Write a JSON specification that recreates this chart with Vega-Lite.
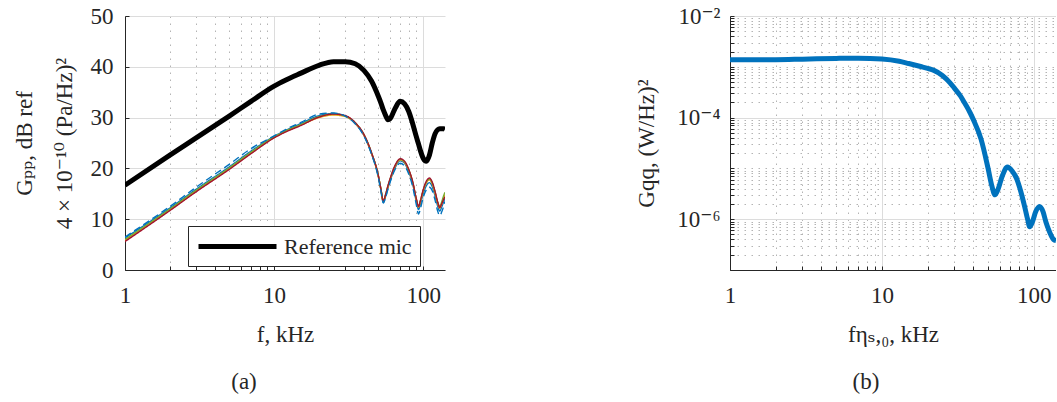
{
  "$schema": "https://vega.github.io/schema/vega-lite/v6.json",
  "background": "white",
  "padding": {"left": 13, "top": 5, "right": 0, "bottom": 0},
  "config": {
    "font": "'Liberation Serif', 'DejaVu Serif', serif",
    "view": {"stroke": null},
    "axis": {
      "labelFont": "'Liberation Serif', 'DejaVu Serif', serif", "labelFontSize": 23, "labelColor": "#262626",
      "titleFont": "'Liberation Serif', 'DejaVu Serif', serif", "titleFontSize": 23, "titleFontWeight": "normal", "titleColor": "#262626",
      "domainColor": "#262626", "domainWidth": 1, "tickColor": "#262626", "tickSize": -4,
      "labelOverlap": false, "labelBound": false, "labelFlush": false, "grid": true
    },
    "concat": {"spacing": 190}
  },
  "datasets": {
    "mics": [
      {"f": 1, "ref": 16.7, "blue": 6.3, "orange": 5.8, "yellow": 5.9, "green": 6.0, "red": 5.6, "bluedash": 6.5},
      {"f": 2, "ref": 22.6, "blue": 12.2, "orange": 11.8, "yellow": 11.9, "green": 12.0, "red": 11.7, "bluedash": 12.5},
      {"f": 3, "ref": 26.0, "blue": 15.9, "orange": 15.5, "yellow": 15.6, "green": 15.7, "red": 15.4, "bluedash": 16.3},
      {"f": 5, "ref": 30.3, "blue": 20.3, "orange": 19.9, "yellow": 20.0, "green": 20.1, "red": 19.8, "bluedash": 20.8},
      {"f": 7, "ref": 33.2, "blue": 23.4, "orange": 23.0, "yellow": 23.1, "green": 23.2, "red": 22.9, "bluedash": 23.9},
      {"f": 10, "ref": 36.2, "blue": 26.3, "orange": 26.1, "yellow": 26.1, "green": 26.2, "red": 26.0, "bluedash": 26.4},
      {"f": 12, "ref": 37.4, "blue": 27.5, "orange": 27.3, "yellow": 27.3, "green": 27.4, "red": 27.2, "bluedash": 27.7},
      {"f": 15, "ref": 38.7, "blue": 28.8, "orange": 28.5, "yellow": 28.5, "green": 28.6, "red": 28.4, "bluedash": 29.0},
      {"f": 20, "ref": 40.3, "blue": 30.4, "orange": 30.1, "yellow": 30.0, "green": 30.2, "red": 30.1, "bluedash": 30.7},
      {"f": 25, "ref": 41.0, "blue": 30.8, "orange": 30.6, "yellow": 30.5, "green": 30.7, "red": 30.7, "bluedash": 30.9},
      {"f": 30, "ref": 41.0, "blue": 30.3, "orange": 30.3, "yellow": 30.2, "green": 30.3, "red": 30.4, "bluedash": 30.3},
      {"f": 35, "ref": 40.6, "blue": 28.8, "orange": 28.9, "yellow": 28.9, "green": 29.0, "red": 29.0, "bluedash": 28.8},
      {"f": 40, "ref": 39.3, "blue": 26.5, "orange": 26.6, "yellow": 26.6, "green": 26.7, "red": 26.7, "bluedash": 26.4},
      {"f": 45, "ref": 37.2, "blue": 22.9, "orange": 23.0, "yellow": 23.0, "green": 23.1, "red": 23.1, "bluedash": 22.8},
      {"f": 50, "ref": 34.2, "blue": 18.4, "orange": 18.5, "yellow": 18.5, "green": 18.6, "red": 18.6, "bluedash": 18.2},
      {"f": 52, "ref": 32.9, "blue": 15.8, "orange": 15.9, "yellow": 15.9, "green": 16.0, "red": 16.0, "bluedash": 15.6},
      {"f": 54, "ref": 31.5, "blue": 13.3, "orange": 13.5, "yellow": 13.5, "green": 13.6, "red": 13.6, "bluedash": 13.2},
      {"f": 56, "ref": 30.4, "blue": 14.5, "orange": 14.8, "yellow": 14.8, "green": 14.9, "red": 14.9, "bluedash": 14.3},
      {"f": 58, "ref": 29.6, "blue": 16.1, "orange": 16.4, "yellow": 16.4, "green": 16.5, "red": 16.6, "bluedash": 15.9},
      {"f": 60, "ref": 29.8, "blue": 17.5, "orange": 17.8, "yellow": 17.8, "green": 17.9, "red": 18.0, "bluedash": 17.3},
      {"f": 65, "ref": 31.9, "blue": 20.2, "orange": 20.5, "yellow": 20.5, "green": 20.6, "red": 20.7, "bluedash": 19.9},
      {"f": 70, "ref": 33.2, "blue": 21.5, "orange": 21.7, "yellow": 21.7, "green": 21.8, "red": 21.9, "bluedash": 21.0},
      {"f": 75, "ref": 32.7, "blue": 21.0, "orange": 21.2, "yellow": 21.2, "green": 21.3, "red": 21.4, "bluedash": 20.5},
      {"f": 80, "ref": 31.2, "blue": 19.3, "orange": 19.6, "yellow": 19.6, "green": 19.7, "red": 19.8, "bluedash": 18.9},
      {"f": 85, "ref": 28.8, "blue": 16.9, "orange": 17.2, "yellow": 17.2, "green": 17.3, "red": 17.4, "bluedash": 16.4},
      {"f": 90, "ref": 26.2, "blue": 13.4, "orange": 13.8, "yellow": 13.8, "green": 13.9, "red": 14.0, "bluedash": 12.8},
      {"f": 93, "ref": 24.8, "blue": 11.9, "orange": 12.4, "yellow": 12.4, "green": 12.5, "red": 12.5, "bluedash": 11.0},
      {"f": 96, "ref": 23.4, "blue": 13.1, "orange": 13.6, "yellow": 13.6, "green": 13.7, "red": 13.8, "bluedash": 12.2},
      {"f": 100, "ref": 22.0, "blue": 15.0, "orange": 15.6, "yellow": 15.6, "green": 15.7, "red": 15.8, "bluedash": 14.3},
      {"f": 105, "ref": 21.4, "blue": 16.6, "orange": 17.2, "yellow": 17.2, "green": 17.3, "red": 17.5, "bluedash": 15.8},
      {"f": 110, "ref": 22.6, "blue": 17.2, "orange": 17.8, "yellow": 17.8, "green": 17.9, "red": 18.1, "bluedash": 16.3},
      {"f": 115, "ref": 25.0, "blue": 16.4, "orange": 17.0, "yellow": 17.0, "green": 17.1, "red": 17.3, "bluedash": 15.6},
      {"f": 120, "ref": 26.8, "blue": 14.6, "orange": 15.2, "yellow": 15.2, "green": 15.4, "red": 15.5, "bluedash": 13.8},
      {"f": 125, "ref": 27.6, "blue": 12.6, "orange": 13.2, "yellow": 13.2, "green": 13.4, "red": 13.4, "bluedash": 11.6},
      {"f": 129, "ref": 27.8, "blue": 11.6, "orange": 12.2, "yellow": 12.2, "green": 12.5, "red": 12.3, "bluedash": 10.7},
      {"f": 133, "ref": 27.8, "blue": 12.4, "orange": 13.0, "yellow": 13.0, "green": 13.4, "red": 13.0, "bluedash": 11.4},
      {"f": 137, "ref": 27.8, "blue": 13.4, "orange": 14.0, "yellow": 14.0, "green": 14.6, "red": 13.9, "bluedash": 12.5},
      {"f": 140, "ref": 27.7, "blue": 14.2, "orange": 14.8, "yellow": 14.8, "green": 15.3, "red": 14.4, "bluedash": 13.5}
    ],
    "psd": [
      {"f": 1, "G": 1.371e-3}, {"f": 2, "G": 1.380e-3}, {"f": 3, "G": 1.413e-3}, {"f": 5, "G": 1.462e-3},
      {"f": 7, "G": 1.479e-3}, {"f": 10, "G": 1.429e-3}, {"f": 13, "G": 1.288e-3}, {"f": 15, "G": 1.161e-3},
      {"f": 18, "G": 1.012e-3}, {"f": 20, "G": 9.33e-4}, {"f": 22, "G": 8.51e-4}, {"f": 25, "G": 6.76e-4},
      {"f": 28, "G": 4.90e-4}, {"f": 30, "G": 3.80e-4}, {"f": 33, "G": 2.63e-4}, {"f": 35, "G": 1.95e-4},
      {"f": 38, "G": 1.26e-4}, {"f": 40, "G": 9.12e-5}, {"f": 45, "G": 3.72e-5}, {"f": 50, "G": 1.0e-5},
      {"f": 53, "G": 4.47e-6}, {"f": 55.5, "G": 3.02e-6}, {"f": 58, "G": 3.80e-6}, {"f": 62, "G": 7.08e-6},
      {"f": 67, "G": 1.07e-5}, {"f": 72, "G": 8.91e-6}, {"f": 77, "G": 6.31e-6}, {"f": 82, "G": 3.55e-6},
      {"f": 87, "G": 1.78e-6}, {"f": 91, "G": 1.0e-6}, {"f": 94, "G": 7.08e-7}, {"f": 98, "G": 8.91e-7},
      {"f": 103, "G": 1.41e-6}, {"f": 109, "G": 1.78e-6}, {"f": 115, "G": 1.41e-6}, {"f": 120, "G": 8.91e-7},
      {"f": 125, "G": 6.31e-7}, {"f": 130, "G": 4.79e-7}, {"f": 135, "G": 3.98e-7}, {"f": 140, "G": 3.80e-7}
    ]
  },
  "hconcat": [
    {
      "width": 320,
      "height": 254,
      "title": {"text": "(a)", "orient": "bottom", "frame": "bounds", "anchor": "middle", "font": "'Liberation Serif', 'DejaVu Serif', serif", "fontSize": 23, "fontWeight": "normal", "color": "#262626", "offset": 25, "dx": 15},
      "data": {"name": "mics"},
      "layer": [
        {
          "transform": [{"fold": ["blue", "orange", "yellow", "green", "red", "bluedash"], "as": ["mic", "G"]}],
          "mark": {"type": "line", "strokeWidth": 1.4, "interpolate": "monotone", "clip": true},
          "encoding": {
            "x": {"field": "f", "type": "quantitative",
              "scale": {"type": "log", "domain": [1, 140], "nice": false},
              "axis": {
                "values": [1, 2, 3, 4, 5, 6, 7, 8, 9, 10, 20, 30, 40, 50, 60, 70, 80, 90, 100],
                "labelExpr": "datum.value == 1 ? '1' : datum.value == 10 ? '10' : datum.value == 100 ? '100' : ''",
                "gridDash": {"condition": {"test": "datum.value == 1 || datum.value == 10 || datum.value == 100", "value": []}, "value": [1.5, 5.5]},
                "gridColor": {"condition": {"test": "datum.value == 1 || datum.value == 10 || datum.value == 100", "value": "#dcdcdc"}, "value": "#b4b4b4"},
                "labelPadding": 18,
                "title": "f, kHz",
                "titlePadding": 16
              }},
            "y": {"field": "G", "type": "quantitative",
              "scale": {"domain": [0, 50], "nice": false},
              "axis": {
                "values": [0, 10, 20, 30, 40, 50],
                "gridColor": "#dcdcdc",
                "labelPadding": 16,
                "title": ["Gₚₚ, dB ref", "4 × 10⁻¹⁰ (Pa/Hz)²"],
                "titleLineHeight": 40,
                "titlePadding": 14
              }},
            "color": {"field": "mic", "type": "nominal",
              "scale": {"domain": ["blue", "orange", "yellow", "green", "red", "bluedash"], "range": ["#0072BD", "#D95319", "#EDB120", "#77AC30", "#A2142F", "#0072BD"]},
              "legend": null},
            "strokeDash": {"field": "mic", "type": "nominal",
              "scale": {"domain": ["blue", "orange", "yellow", "green", "red", "bluedash"], "range": [[1, 0], [1, 0], [1, 0], [1, 0], [1, 0], [7, 4]]},
              "legend": null}
          }
        },
        {
          "mark": {"type": "line", "strokeWidth": 5, "interpolate": "monotone", "clip": true},
          "encoding": {
            "x": {"field": "f", "type": "quantitative"},
            "y": {"field": "ref", "type": "quantitative"},
            "color": {"datum": "Reference mic", "type": "nominal",
              "scale": {"domain": ["Reference mic"], "range": ["#000000"]},
              "legend": {
                "orient": "none", "legendX": 63, "legendY": 210, "title": null,
                "symbolType": "M-1,0H6.8", "symbolSize": 400, "symbolStrokeWidth": 5,
                "labelFont": "'Liberation Serif', 'DejaVu Serif', serif", "labelFontSize": 22, "labelColor": "#262626",
                "labelOffset": 63, "padding": 8,
                "strokeColor": "#262626", "fillColor": "white"
              }}
          }
        }
      ],
      "resolve": {"scale": {"color": "independent", "strokeDash": "independent"}}
    },
    {
      "width": 326,
      "height": 254,
      "title": {"text": "(b)", "orient": "bottom", "frame": "bounds", "anchor": "middle", "font": "'Liberation Serif', 'DejaVu Serif', serif", "fontSize": 23, "fontWeight": "normal", "color": "#262626", "offset": 25, "dx": 20},
      "data": {"name": "psd"},
      "mark": {"type": "line", "strokeWidth": 5, "color": "#0072BD", "interpolate": "monotone", "clip": true},
      "encoding": {
        "x": {"field": "f", "type": "quantitative",
          "scale": {"type": "log", "domain": [1, 140], "nice": false},
          "axis": {
            "values": [1, 2, 3, 4, 5, 6, 7, 8, 9, 10, 20, 30, 40, 50, 60, 70, 80, 90, 100],
            "labelExpr": "datum.value == 1 ? '1' : datum.value == 10 ? '10' : datum.value == 100 ? '100' : ''",
            "gridDash": {"condition": {"test": "datum.value == 1 || datum.value == 10 || datum.value == 100", "value": []}, "value": [1.5, 5.5]},
            "gridColor": {"condition": {"test": "datum.value == 1 || datum.value == 10 || datum.value == 100", "value": "#dcdcdc"}, "value": "#b4b4b4"},
            "labelPadding": 18,
            "title": "fηₛ,₀, kHz",
            "titlePadding": 16
          }},
        "y": {"field": "G", "type": "quantitative",
          "scale": {"type": "log", "domain": [1e-7, 1e-2], "nice": false},
          "axis": {
            "values": [1e-7, 2e-7, 3e-7, 4e-7, 5e-7, 6e-7, 7e-7, 8e-7, 9e-7,
                       1e-6, 2e-6, 3e-6, 4e-6, 5e-6, 6e-6, 7e-6, 8e-6, 9e-6,
                       1e-5, 2e-5, 3e-5, 4e-5, 5e-5, 6e-5, 7e-5, 8e-5, 9e-5,
                       1e-4, 2e-4, 3e-4, 4e-4, 5e-4, 6e-4, 7e-4, 8e-4, 9e-4,
                       1e-3, 2e-3, 3e-3, 4e-3, 5e-3, 6e-3, 7e-3, 8e-3, 9e-3, 1e-2],
            "labelExpr": "datum.value == 0.01 ? '10⁻²' : datum.value == 0.0001 ? '10⁻⁴' : datum.value == 0.000001 ? '10⁻⁶' : ''",
            "gridDash": {"condition": {"test": "datum.value == 0.01 || datum.value == 0.0001 || datum.value == 0.000001", "value": []}, "value": [1.5, 5.5]},
            "gridColor": {"condition": {"test": "datum.value == 0.01 || datum.value == 0.0001 || datum.value == 0.000001", "value": "#dcdcdc"}, "value": "#b4b4b4"},
            "labelPadding": 14,
            "title": "Gqq, (W/Hz)²",
            "titlePadding": 18
          }}
      }
    }
  ]
}
